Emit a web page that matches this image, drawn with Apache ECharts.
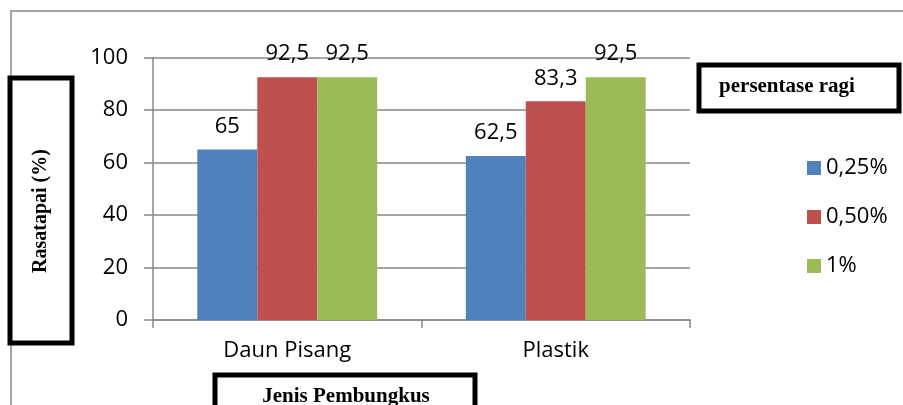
<!DOCTYPE html>
<html>
<head>
<meta charset="utf-8">
<script src="https://cdn.jsdelivr.net/npm/echarts@6/dist/echarts.min.js"></script>
<style>html,body{margin:0;padding:0;background:#fff}#c{width:903px;height:405px}</style>
</head>
<body>
<div id="c"></div>
<script>
const categories = ['Daun Pisang', 'Plastik'];
const seriesNames = ['0,25%', '0,50%', '1%'];
const s025 = [65, 62.5];
const s050 = [92.5, 83.3];
const s1 = [92.5, 92.5];
const yTicks = [0, 20, 40, 60, 80, 100];
const colors = ['#4F81BD', '#C0504D', '#9BBB59'];

const chart = echarts.init(document.getElementById('c'), null, {renderer: 'canvas'});
const font = "'Open Sans', sans-serif";
const serif = "'Liberation Serif', 'DejaVu Serif', serif";
const fmt = p => String(p.value).replace('.', ',');
const mk = (name, data, i) => ({
  name, type: 'bar', data, barGap: '0%', barCategoryGap: '33%',
  itemStyle: {color: colors[i]},
  label: {show: true, position: 'top', distance: 12, formatter: fmt,
          fontFamily: font, fontSize: 22, color: '#000'}
});

chart.setOption({
  animation: false,
  backgroundColor: '#fff',
  grid: {left: 153, right: 213, top: 57.5, bottom: 85},
  legend: {
    orient: 'vertical', left: 802, top: 152, itemWidth: 14, itemHeight: 14,
    itemGap: 27, icon: 'rect',
    textStyle: {fontFamily: font, fontSize: 22, color: '#000'},
    data: seriesNames
  },
  xAxis: {
    type: 'category', data: categories,
    axisLine: {lineStyle: {color: '#888', width: 1.5}},
    axisTick: {show: true, length: 8, lineStyle: {color: '#888', width: 1.5}},
    axisLabel: {fontFamily: font, fontSize: 22, color: '#000', margin: 20}
  },
  yAxis: {
    type: 'value', min: yTicks[0], max: yTicks[yTicks.length - 1], interval: yTicks[1] - yTicks[0],
    axisLine: {show: true, lineStyle: {color: '#888', width: 1.5}},
    axisTick: {show: true, length: 9, lineStyle: {color: '#888', width: 1.5}},
    splitLine: {lineStyle: {color: '#888', width: 1.5}},
    axisLabel: {fontFamily: font, fontSize: 22, color: '#000', margin: 25}
  },
  series: [mk(seriesNames[0], s025, 0), mk(seriesNames[1], s050, 1), mk(seriesNames[2], s1, 2)],
  graphic: [
    {type: 'polyline', shape: {points: [[11, 405], [11, 11], [903, 11]]},
     style: {stroke: '#888', lineWidth: 1.5, fill: null}, z: 1},
    {type: 'rect', shape: {x: 10, y: 78, width: 62, height: 265},
     style: {fill: '#fff', stroke: '#000', lineWidth: 5}, z: 10},
    {type: 'text', x: 41, y: 211, rotation: Math.PI / 2,
     style: {text: 'Rasatapai (%)', font: 'bold 20px ' + serif, fill: '#000',
             align: 'center', verticalAlign: 'middle'}, z: 11},
    {type: 'rect', shape: {x: 699, y: 65, width: 200, height: 46},
     style: {fill: '#fff', stroke: '#000', lineWidth: 5}, z: 10},
    {type: 'text', x: 787, y: 87,
     style: {text: 'persentase ragi', font: 'bold 21px ' + serif, fill: '#000',
             align: 'center', verticalAlign: 'middle'}, z: 11},
    {type: 'rect', shape: {x: 215, y: 375, width: 260, height: 60},
     style: {fill: '#fff', stroke: '#000', lineWidth: 5}, z: 10},
    {type: 'text', x: 346, y: 397,
     style: {text: 'Jenis Pembungkus', font: 'bold 21px ' + serif, fill: '#000',
             align: 'center', verticalAlign: 'middle'}, z: 11}
  ]
});
</script>
</body>
</html>
